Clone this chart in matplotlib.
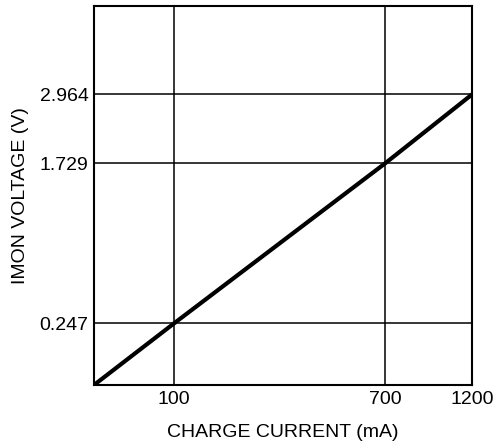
import matplotlib
matplotlib.use("Agg")
import matplotlib.pyplot as plt
import numpy as np

plt.rcParams["font.family"] = ["Liberation Sans", "DejaVu Sans"]

# data (IMON voltage vs charge current)
charge_current_ma = [0, 100, 700, 1200]
imon_voltage_v = [0, 0.247, 1.729, 2.964]

x_ticks = [100, 700, 1200]
x_tick_labels = ["100", "700", "1200"]
y_ticks = [0.247, 1.729, 2.964]
y_tick_labels = ["0.247", "1.729", "2.964"]

# the drawing is not to scale: piecewise axis mapping (value -> fraction of axis)
x_break_val = [0, 100, 700, 1200]
x_break_pos = [0.0, 0.212, 0.771, 1.0]
y_break_val = [0, 0.247, 1.729, 2.964, 3.84]
y_break_pos = [0.0, 0.1627, 0.585, 0.766, 1.0]


def make_scale(vals, pos):
    def forward(v):
        return np.interp(v, vals, pos)

    def inverse(p):
        return np.interp(p, pos, vals)
    return forward, inverse


fig = plt.figure(figsize=(4.96, 4.47), dpi=100)
ax = fig.add_axes([94 / 496, 62 / 447, 378 / 496, 379.3 / 447])

ax.set_xscale("function", functions=make_scale(x_break_val, x_break_pos))
ax.set_yscale("function", functions=make_scale(y_break_val, y_break_pos))
ax.set_xlim(0, 1200)
ax.set_ylim(0, 3.84)

ax.plot(charge_current_ma, imon_voltage_v, color="black", linewidth=3.0,
        solid_capstyle="butt", zorder=3)

ax.set_xticks(x_ticks)
ax.set_xticklabels(x_tick_labels)
ax.set_yticks(y_ticks)
ax.set_yticklabels(y_tick_labels)
ax.minorticks_off()
ax.tick_params(length=0, labelsize=14, pad=4)
ax.grid(True, color="black", linewidth=1.1)

for s in ax.spines.values():
    s.set_linewidth(1.5)

ax.set_xlabel("CHARGE CURRENT (mA)", fontsize=14, labelpad=12)
ax.set_ylabel("IMON VOLTAGE (V)", fontsize=14)
ax.yaxis.set_label_coords(-0.172, 0.5)

fig.savefig("out.png", dpi=100)
